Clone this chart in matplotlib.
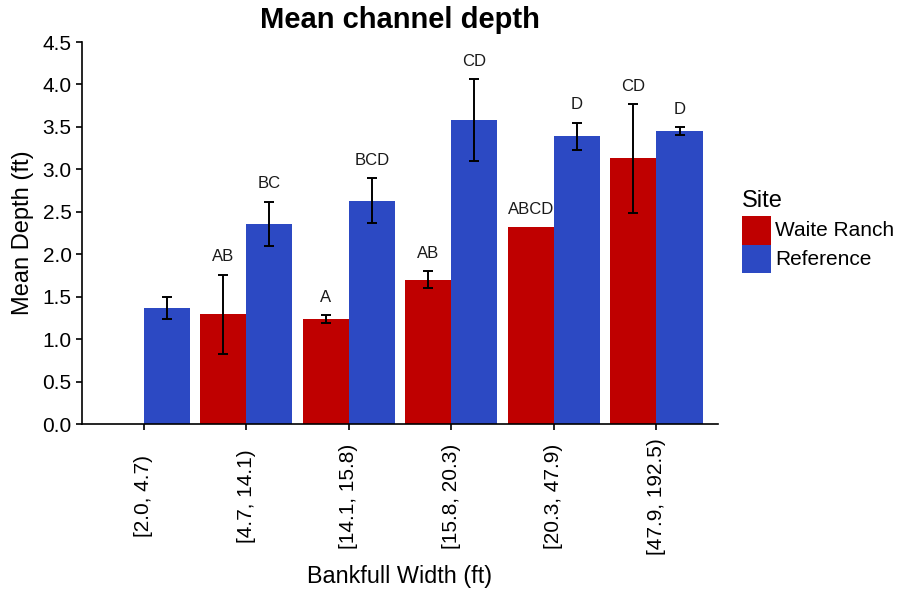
import matplotlib
matplotlib.use("Agg")
import matplotlib.pyplot as plt
import numpy as np
from matplotlib.patches import Rectangle

plt.rcParams['font.family'] = ['Liberation Sans', 'DejaVu Sans']

categories = ["[2.0, 4.7)", "[4.7, 14.1)", "[14.1, 15.8)", "[15.8, 20.3)", "[20.3, 47.9)", "[47.9, 192.5)"]
sites = ["Waite Ranch", "Reference"]
waite_mean = [np.nan, 1.29, 1.24, 1.70, 2.32, 3.13]
waite_err = [np.nan, 0.47, 0.045, 0.10, np.nan, 0.64]
ref_mean = [1.37, 2.36, 2.63, 3.58, 3.39, 3.45]
ref_err = [0.13, 0.26, 0.265, 0.485, 0.16, 0.05]
waite_labels = ["", "AB", "A", "AB", "ABCD", "CD"]
ref_labels = ["", "BC", "BCD", "CD", "D", "D"]

colors = {"Waite Ranch": "#BF0000", "Reference": "#2C49C3"}

W, H = 898, 592
fig = plt.figure(figsize=(W/100, H/100), dpi=100)
ax = fig.add_axes([82/W, 1-424/H, (718-82)/W, (424-42)/H])

x = np.arange(len(categories))
w = 0.45
series = [
    (waite_mean, waite_err, waite_labels, -w/2, "Waite Ranch"),
    (ref_mean, ref_err, ref_labels, w/2, "Reference"),
]
for means, errs, labs, off, name in series:
    m = np.array(means, dtype=float)
    e = np.array(errs, dtype=float)
    ax.bar(x + off, m, width=w, color=colors[name], edgecolor='none', zorder=2)
    ax.errorbar(x + off, m, yerr=e, fmt='none', ecolor='black', elinewidth=1.4,
                capsize=3.8, capthick=1.4, zorder=3)
    for xi, mi, ei, lab in zip(x + off, m, e, labs):
        if lab and not np.isnan(mi):
            top = mi + (0 if np.isnan(ei) else ei)
            ax.text(xi, top + 0.21, lab, ha='center', va='center', fontsize=12, color='#1a1a1a')

ax.set_xlim(-0.6, 5.6)
ax.set_ylim(0, 4.5)
yt = np.arange(0, 4.51, 0.5)
ax.set_yticks(yt)
ax.set_yticklabels([f"{v:.1f}" for v in yt], fontsize=15)
ax.set_xticks(x)
ax.set_xticklabels(categories, rotation=90, fontsize=15, va='center')
for s in ['top', 'right']:
    ax.spines[s].set_visible(False)
for s in ['left', 'bottom']:
    ax.spines[s].set_linewidth(1.2)
ax.tick_params(axis='both', direction='out', length=4.5, width=1.2, colors='black')
ax.tick_params(axis='y', pad=3)
ax.tick_params(axis='x', pad=47.5)

ax.set_ylabel("Mean Depth (ft)", fontsize=17)
ax.yaxis.set_label_coords((23-82)/636, 0.5)
ax.yaxis.label.set_va('center')
ax.set_xlabel("Bankfull Width (ft)", fontsize=16.8)
ax.xaxis.set_label_coords(0.5, (424-577)/382)
ax.xaxis.label.set_va('center')
ax.set_title("Mean channel depth", fontsize=21, fontweight='bold', pad=10)

# legend (drawn in figure pixel coordinates)
fig.text(742/W, 1-201/H, "Site", fontsize=17, ha='left', va='center')
key_top = 216
key_h = 28.5
for i, s in enumerate(sites):
    y0 = key_top + i*key_h
    fig.add_artist(Rectangle((742/W, 1-(y0+key_h)/H), 29/W, key_h/H,
                             transform=fig.transFigure, facecolor=colors[s], edgecolor='none'))
    fig.text(775/W, 1-(y0+key_h/2+0.5)/H, s, fontsize=15, ha='left', va='center')

fig.savefig("out.png", dpi=100)
